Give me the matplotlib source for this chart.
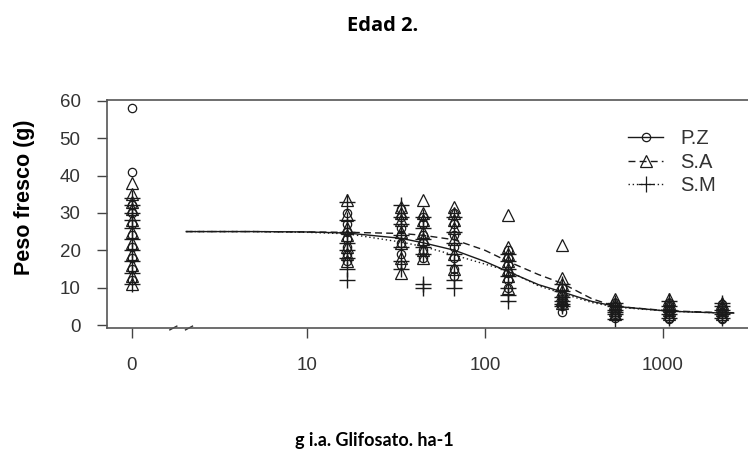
import matplotlib
matplotlib.use("Agg")
import matplotlib.pyplot as plt
from matplotlib.lines import Line2D

plt.rcParams['font.family'] = ['Liberation Sans', 'DejaVu Sans']

# ---- data ----
doses = [0, 16.875, 33.75, 45, 67.5, 135, 270, 540, 1080, 2160]
zero_pos = 1.04  # where dose 0 is drawn on the broken log axis

pz_vals = [
    [58, 41, 32, 30, 27, 24, 21, 18, 15, 12],
    [30, 27, 25, 23, 21, 19, 17],
    [31, 29, 26, 24, 22, 19, 16],
    [29, 27, 24, 22, 20, 18],
    [30, 27, 24, 21, 18, 15, 13],
    [20, 18, 16, 14, 12, 10],
    [10, 8, 7, 6, 5, 3.5],
    [6, 5, 4, 3, 2.5, 2],
    [6, 5, 4, 3, 2, 1.5],
    [5.5, 4.5, 3.5, 3, 2, 1.5],
]
sa_vals = [
    [38, 35, 33, 31, 28, 25, 22, 19, 16, 13, 11],
    [33.5, 29.5, 26, 24, 21, 19, 17],
    [31.5, 30, 28, 25, 22, 18, 14],
    [33.5, 30, 28, 25, 23, 20, 18],
    [31.5, 30, 28, 26, 23, 19, 15],
    [29.5, 21, 19, 17, 15, 13, 10],
    [21.5, 12.5, 11, 9, 8, 7, 6],
    [7, 6, 5, 4, 3],
    [7, 6, 5, 4, 3],
    [6, 5, 4, 3],
]
sm_vals = [
    [34, 32, 30, 28, 26, 23, 20, 17, 14, 11],
    [33, 28, 25, 22, 20, 18, 15, 12],
    [32, 29, 27, 24, 21, 17, 15],
    [29, 26, 23, 21, 19, 11, 10],
    [29, 25, 22, 19, 16, 12, 10],
    [19, 17, 15, 13, 10, 8, 6.5],
    [11, 9, 7.5, 6.5, 5.5, 5],
    [6, 5, 4, 3.5, 3, 1.5],
    [6.5, 5, 4, 3, 2],
    [6, 5, 4, 3, 2],
]

# fitted curves, read at these doses
curve_x = [2.1, 5, 10, 16.875, 33.75, 45, 67.5, 100, 135, 200, 270, 400, 540, 1080, 2160, 2500]
pz_curve = [25, 25, 24.9, 24.6, 23.2, 22.0, 20.0, 17.0, 14.3, 10.8, 8.9, 6.3, 5.0, 3.7, 3.2, 3.2]
sa_curve = [25, 25, 24.9, 24.8, 24.5, 24.0, 22.8, 20.0, 17.0, 13.5, 11.2, 7.0, 5.0, 3.8, 3.3, 3.3]
sm_curve = [25, 25, 24.8, 24.4, 22.2, 21.0, 18.7, 16.3, 14.5, 10.5, 8.5, 6.0, 4.8, 3.7, 3.2, 3.2]

labels = ["P.Z", "S.A", "S.M"]
xticks = [zero_pos, 10, 100, 1000]
xticklabels = ["0", "10", "100", "1000"]
yticks = [0, 10, 20, 30, 40, 50, 60]

# ---- figure ----
W, H = 748, 449
fig = plt.figure(figsize=(W / 100, H / 100), dpi=100)
ax = fig.add_axes([107 / W, 1 - 328 / H, (755.5 - 107) / W, (328 - 100) / H])

def xpos(d):
    return zero_pos if d == 0 else d

markers = ['o', '^', '+']
msizes = [6, 9, 11]
styles = ['-', (0, (5, 3)), (0, (1, 2))]
series = [pz_vals, sa_vals, sm_vals]
curves = [pz_curve, sa_curve, sm_curve]
col = '#1a1a1a'

for vals, mk, ms in zip(series, markers, msizes):
    for d, vs in zip(doses, vals):
        xs = [xpos(d)] * len(vs)
        if mk == '+':
            ax.plot(xs, vs, linestyle='none', marker=mk, ms=ms, mew=1.0, color=col)
        else:
            ax.plot(xs, vs, linestyle='none', marker=mk, ms=ms, mew=0.9,
                    mfc='none', mec=col)

for cv, ls in zip(curves, styles):
    ax.plot(curve_x, cv, linestyle=ls, color=col, lw=1.0)

# legend
handles = [Line2D([], [], linestyle=ls, marker=mk, ms=ms, mfc='none', mec=col,
                  color=col, lw=1.0, mew=0.9)
           for ls, mk, ms in zip(styles, markers, [6, 9, 11])]
fs_leg = 14.5
leg = ax.legend(handles, labels, loc='upper left',
                bbox_to_anchor=(628 / W, 1 - 129 / H), bbox_transform=fig.transFigure,
                frameon=False, fontsize=fs_leg, handlelength=1.75, handletextpad=0.85,
                labelspacing=0.23, borderaxespad=0, borderpad=0)
for t in leg.get_texts():
    t.set_color('#333333')

ax.set_xscale('log')
ax.set_xlim(0.754, 3314)
ax.set_ylim(-0.8, 60.2)
ax.set_xticks(xticks)
ax.set_xticklabels(xticklabels)
ax.minorticks_off()
ax.set_yticks(yticks)
ax.tick_params(axis='both', length=7, width=1, color='#444444', labelsize=13.5,
               labelcolor='#333333')
ax.tick_params(axis='x', pad=14)
ax.tick_params(axis='y', pad=12)
for s in ['left', 'bottom', 'top']:
    ax.spines[s].set_color('#555555')
    ax.spines[s].set_linewidth(1.2)
ax.spines['right'].set_visible(False)

# axis break marks
for xb in [1.78, 2.18]:
    ax.plot([xb * 0.955, xb * 1.045], [-1.3, -0.3], color='#333333', lw=1.0,
            clip_on=False)

fig.text(25 / W, 1 - 197 / H, "Peso fresco (g)", rotation=90, ha='center', va='center',
         fontsize=15.5, fontweight='bold')
fig.text(383 / W, 1 - 31 / H, "Edad 2.", ha='center', va='baseline',
         fontsize=14.5, fontweight='bold', family=['Open Sans', 'DejaVu Sans'])
fig.text(374 / W, 1 - 446 / H, "g i.a. Glifosato. ha-1", ha='center', va='baseline',
         fontsize=13, fontweight='bold', family=['Lato', 'DejaVu Sans'])

fig.savefig("out.png", dpi=100)
